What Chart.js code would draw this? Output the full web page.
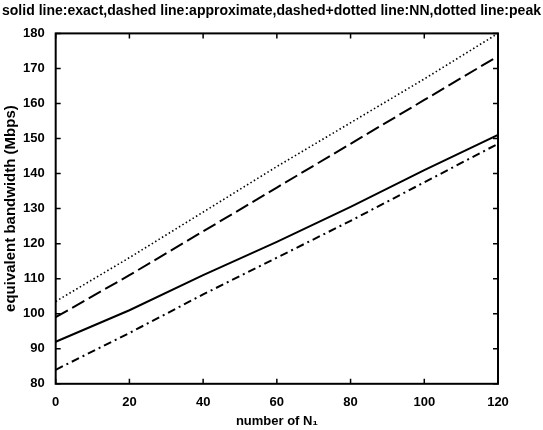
<!DOCTYPE html>
<html>
<head>
<meta charset="utf-8">
<script src="https://cdn.jsdelivr.net/npm/chart.js@4"></script>
<style>
  html, body { margin: 0; padding: 0; background: #fff; }
  #wrap { width: 543px; height: 430px; }
</style>
</head>
<body>
<div id="wrap"><canvas id="bwChart" width="543" height="430"></canvas></div>
<script>
// values
var nValues   = [0, 20, 40, 60, 80, 100, 120];
var exact     = [92, 101, 111, 120.5, 130.5, 141, 151];
var approx    = [99, 111, 123.5, 136, 148.5, 161, 173.5];
var nn        = [84, 94.5, 105.5, 116, 126.5, 137.5, 148.5];
var peak      = [103.5, 116, 129, 142, 154.5, 167, 180];
var xTicks    = [0, 20, 40, 60, 80, 100, 120];
var yTicks    = [80, 90, 100, 110, 120, 130, 140, 150, 160, 170, 180];

function pts(ys) {
  var out = [];
  for (var i in nValues) out.push({ x: nValues[i], y: ys[i] });
  return out;
}

// box round the plot plus inward ticks, matlab style
var boxPlugin = {
  id: 'box',
  afterDraw: function(chart) {
    var ctx = chart.ctx, a = chart.chartArea;
    var x = chart.scales.x, y = chart.scales.y;
    ctx.save();
    ctx.strokeStyle = '#000';
    ctx.lineWidth = 2;
    ctx.strokeRect(a.left, a.top, a.right - a.left, a.bottom - a.top);
    ctx.lineWidth = 1.5;
    ctx.beginPath();
    xTicks.forEach(function(v) {
      var px = x.getPixelForValue(v);
      ctx.moveTo(px, a.bottom); ctx.lineTo(px, a.bottom - 5);
      ctx.moveTo(px, a.top);    ctx.lineTo(px, a.top + 5);
    });
    yTicks.forEach(function(v) {
      var py = y.getPixelForValue(v);
      ctx.moveTo(a.left, py);  ctx.lineTo(a.left + 5, py);
      ctx.moveTo(a.right, py); ctx.lineTo(a.right - 5, py);
    });
    ctx.stroke();
    ctx.restore();
  }
};

var font = { family: 'Liberation Sans', weight: 'bold', size: 13 };

new Chart(document.getElementById('bwChart').getContext('2d'), {
  type: 'line',
  data: {
    datasets: [
      { label: 'exact', data: pts(exact), borderColor: '#000', borderWidth: 2, pointRadius: 0 },
      { label: 'approximate', data: pts(approx), borderColor: '#000', borderWidth: 2, borderDash: [14, 5], pointRadius: 0 },
      { label: 'NN', data: pts(nn), borderColor: '#000', borderWidth: 2, borderDash: [8, 4, 2, 4], pointRadius: 0 },
      { label: 'peak', data: pts(peak), borderColor: '#000', borderWidth: 1.6, borderDash: [1.5, 2.5], pointRadius: 0 }
    ]
  },
  options: {
    responsive: false,
    animation: false,
    layout: { padding: { left: 2, right: 2, top: 0, bottom: 1 } },
    plugins: {
      legend: { display: false },
      tooltip: { enabled: false },
      title: {
        display: true,
        text: 'solid line:exact,dashed line:approximate,dashed+dotted line:NN,dotted line:peak',
        color: '#000',
        font: { family: 'Liberation Sans', weight: 'bold', size: 14.5 },
        padding: { top: 2, bottom: 14 }
      }
    },
    scales: {
      x: {
        type: 'linear', min: 0, max: 120,
        afterBuildTicks: function(s) { s.ticks = xTicks.map(function(v) { return { value: v }; }); },
        grid: { display: false },
        border: { display: false },
        ticks: { color: '#000', font: font, padding: 3, maxRotation: 0 },
        title: { display: true, text: 'number of N\u2081', color: '#000', font: { family: 'Liberation Sans', weight: 'bold', size: 13 }, padding: { top: 0, bottom: 0 } }
      },
      y: {
        min: 80, max: 180,
        afterBuildTicks: function(s) { s.ticks = yTicks.map(function(v) { return { value: v }; }); },
        grid: { display: false },
        border: { display: false },
        ticks: { color: '#000', font: font, padding: 3 },
        title: { display: true, text: 'equivalent bandwidth (Mbps)', color: '#000', font: { family: 'Liberation Sans', weight: 'bold', size: 15 }, padding: { top: 0, bottom: 0 } }
      },
      // empty right axis, only keeps room to the right of the box
      yRight: {
        position: 'right', min: 80, max: 180,
        grid: { display: false },
        border: { display: false },
        ticks: { display: false },
        afterFit: function(s) { s.width = 43; }
      }
    }
  },
  plugins: [boxPlugin]
});
</script>
</body>
</html>
